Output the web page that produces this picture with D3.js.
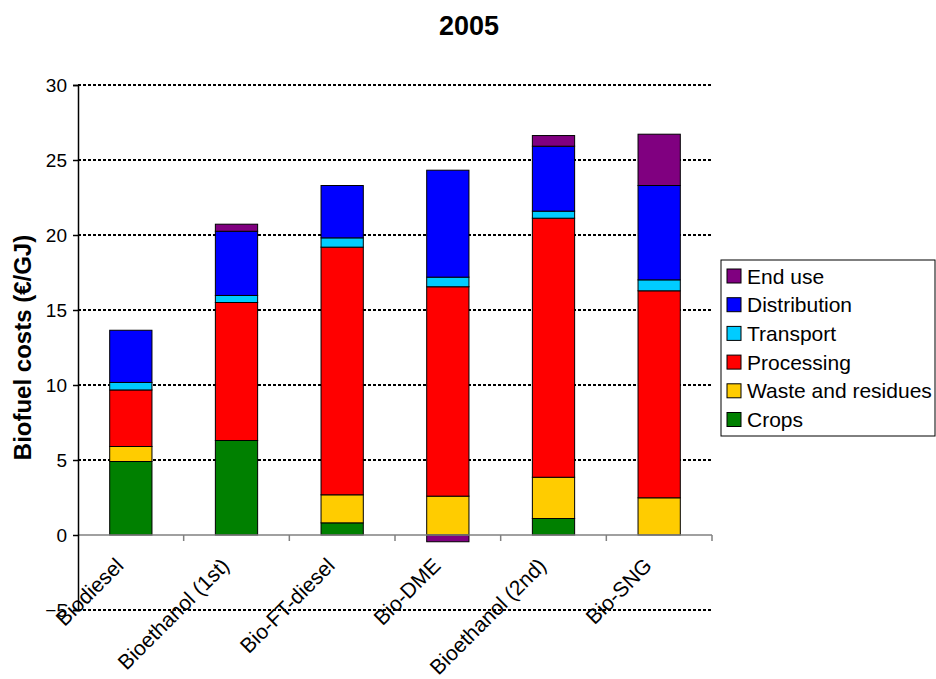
<!DOCTYPE html>
<html>
<head>
<meta charset="utf-8">
<script src="https://cdn.jsdelivr.net/npm/d3@7"></script>
<style>
  html, body { margin: 0; padding: 0; background: #fff; }
  svg { display: block; font-family: "Liberation Sans", Arial, sans-serif; }
</style>
</head>
<body>
<svg id="chart" width="936" height="679"></svg>
<script>
const categories = ["Biodiesel", "Bioethanol (1st)", "Bio-FT-diesel", "Bio-DME", "Bioethanol (2nd)", "Bio-SNG"];
const crops        = [4.9, 6.3, 0.81, 0, 1.1, 0];
const waste        = [1.0, 0, 1.87, 2.59, 2.75, 2.48];
const processing   = [3.77, 9.2, 16.51, 13.96, 17.27, 13.8];
const transport    = [0.5, 0.47, 0.62, 0.64, 0.47, 0.73];
const distribution = [3.48, 4.28, 3.49, 7.13, 4.33, 6.29];
const endUse       = [0, 0.47, 0, -0.45, 0.71, 3.42];
const seriesNames  = ["Crops", "Waste and residues", "Processing", "Transport", "Distribution", "End use"];
const seriesColors = ["#008000", "#FFCC00", "#FF0000", "#00CCFF", "#0000FF", "#800080"];
const yTicks = [-5, 0, 5, 10, 15, 20, 25, 30];
const title = "2005";
const yLabel = "Biofuel costs (€/GJ)";

const seriesValues = [crops, waste, processing, transport, distribution, endUse];
const rows = categories.map((c, i) => {
  const r = { category: c };
  seriesNames.forEach((s, j) => r[s] = seriesValues[j][i]);
  return r;
});

const svg = d3.select("#chart");
const plot = { left: 78, right: 712, top: 85, bottom: 610 };

const x = d3.scaleBand().domain(categories).range([plot.left, plot.right])
  .paddingInner(0.6).paddingOuter(0.3);
const y = d3.scaleLinear().domain([-5, 30]).range([plot.bottom, plot.top]);

// gridlines
svg.append("g").selectAll("line")
  .data(yTicks.filter(t => t !== 0))
  .join("line")
  .attr("x1", plot.left).attr("x2", plot.right)
  .attr("y1", d => y(d)).attr("y2", d => y(d))
  .attr("stroke", "#000").attr("stroke-width", 2)
  .attr("stroke-dasharray", "3,2");

// stacked bars
const stack = d3.stack().keys(seriesNames).offset(d3.stackOffsetDiverging);
const stacked = stack(rows);

svg.append("g").selectAll("g")
  .data(stacked)
  .join("g")
  .attr("fill", (d, i) => seriesColors[i])
  .selectAll("rect")
  .data(d => d.filter(s => s[1] !== s[0]))
  .join("rect")
  .attr("x", d => x(d.data.category))
  .attr("width", x.bandwidth())
  .attr("y", d => y(Math.max(d[0], d[1])))
  .attr("height", d => Math.abs(y(d[0]) - y(d[1])))
  .attr("stroke", "#000")
  .attr("stroke-width", 1);

// x axis line at zero with tick marks between categories
const xAxisG = svg.append("g");
xAxisG.append("line")
  .attr("x1", plot.left).attr("x2", plot.right)
  .attr("y1", y(0)).attr("y2", y(0))
  .attr("stroke", "#808080").attr("stroke-width", 1.5);
const boundaries = d3.range(categories.length + 1).map(i => plot.left + i * x.step());
xAxisG.selectAll("line.tk")
  .data(boundaries.slice(1))
  .join("line").attr("class", "tk")
  .attr("x1", d => d).attr("x2", d => d)
  .attr("y1", y(0)).attr("y2", y(0) + 6)
  .attr("stroke", "#808080").attr("stroke-width", 1.5);

// category labels
xAxisG.selectAll("text")
  .data(categories)
  .join("text")
  .attr("transform", d => `translate(${x(d) + x.bandwidth() / 2 - 6},${y(0) + 32}) rotate(-45)`)
  .attr("text-anchor", "end")
  .attr("font-size", 21)
  .attr("fill", "#000")
  .text(d => d);

// y axis
const yAxis = d3.axisLeft(y).tickValues(yTicks).tickSize(5).tickPadding(6);
const yG = svg.append("g").attr("transform", `translate(${plot.left},0)`).call(yAxis);
yG.select(".domain").attr("stroke", "#000").attr("stroke-width", 1.5);
yG.selectAll(".tick line").attr("stroke", "#000").attr("stroke-width", 1.5);
yG.selectAll(".tick text").attr("font-size", 19).attr("font-family", "Liberation Sans, Arial, sans-serif").attr("fill", "#000");

// y label
svg.append("text")
  .attr("transform", `translate(31,${(plot.top + plot.bottom) / 2}) rotate(-90)`)
  .attr("text-anchor", "middle")
  .attr("font-size", 24).attr("font-weight", "bold")
  .text(yLabel);

// title
svg.append("text")
  .attr("x", 469).attr("y", 35)
  .attr("text-anchor", "middle")
  .attr("font-size", 27).attr("font-weight", "bold")
  .text(title);

// legend
const lg = svg.append("g");
lg.append("rect")
  .attr("x", 721).attr("y", 260).attr("width", 214).attr("height", 176)
  .attr("fill", "#fff").attr("stroke", "#000").attr("stroke-width", 1);
const legendOrder = seriesNames.map((s, i) => ({ name: s, color: seriesColors[i] })).reverse();
const item = lg.selectAll("g.item").data(legendOrder).join("g").attr("class", "item")
  .attr("transform", (d, i) => `translate(727,${276 + i * 28.7})`);
item.append("rect")
  .attr("x", 0).attr("y", -7).attr("width", 14).attr("height", 14)
  .attr("fill", d => d.color).attr("stroke", "#000").attr("stroke-width", 1);
item.append("text")
  .attr("x", 20).attr("y", 7.5)
  .attr("font-size", 21)
  .text(d => d.name);
</script>
</body>
</html>
